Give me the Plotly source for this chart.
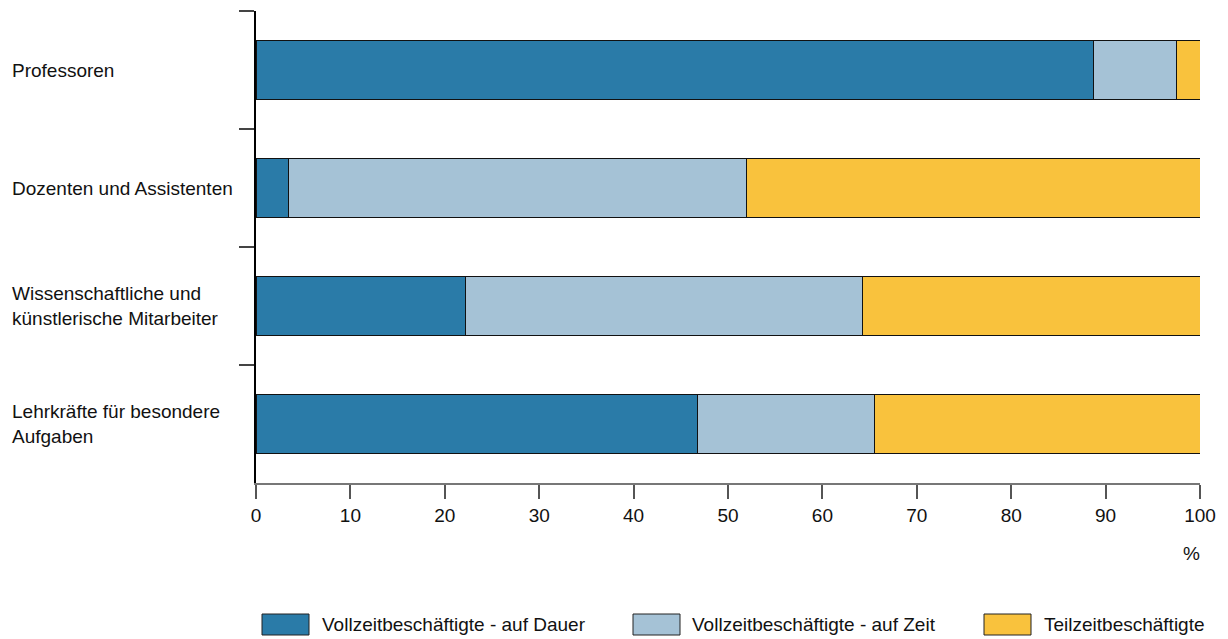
import plotly.graph_objects as go

categories = ["Professoren", "Dozenten und Assistenten",
              "Wissenschaftliche und<br>künstlerische Mitarbeiter",
              "Lehrkräfte für besondere<br>Aufgaben"]
series_names = ["Vollzeitbeschäftigte - auf Dauer", "Vollzeitbeschäftigte - auf Zeit", "Teilzeitbeschäftigte"]
vollzeit_dauer = [88.7, 3.4, 22.2, 46.8]
vollzeit_zeit = [8.8, 48.6, 42.0, 18.7]
teilzeit = [2.5, 48.0, 35.8, 34.5]
colors = ["#2a7ba8", "#a5c2d6", "#f9c23d"]
x_ticks = [0, 10, 20, 30, 40, 50, 60, 70, 80, 90, 100]

FONT = "Liberation Sans, Arial, sans-serif"
FS = 19
W, H = 1228, 639
L, R, T, B = 256, 28, 11, 156
pw, ph = W - L - R, H - T - B

def px2x(px):
    return (px - L) / pw

def py2y(py):
    return (H - B - py) / ph

fig = go.Figure()
for name, vals, col in zip(series_names, [vollzeit_dauer, vollzeit_zeit, teilzeit], colors):
    fig.add_trace(go.Bar(
        y=categories, x=vals, name=name, orientation="h",
        marker=dict(color=col, line=dict(color="#111111", width=1)),
        showlegend=False,
    ))

annotations = []
for c in categories:
    annotations.append(dict(
        x=px2x(11), xref="paper", y=c, yref="y", text=c, showarrow=False,
        xanchor="left", align="left", borderpad=0, font=dict(family=FONT, size=FS, color="#111111"),
    ))
annotations.append(dict(
    x=px2x(1191), xref="paper", y=py2y(553), yref="paper", text="%", showarrow=False,
    xanchor="center", yanchor="middle", font=dict(family=FONT, size=FS, color="#111111"),
))

shapes = []
legend_pos = [(262, 322), (633, 692), (984, 1044)]
for (sx, tx), name, col in zip(legend_pos, series_names, colors):
    shapes.append(dict(
        type="rect", xref="paper", yref="paper",
        x0=px2x(sx), x1=px2x(sx + 47), y0=py2y(635), y1=py2y(614),
        fillcolor=col, line=dict(color="#222222", width=1),
    ))
    annotations.append(dict(
        x=px2x(tx - 1), xref="paper", y=py2y(624.5), yref="paper", text=name, showarrow=False,
        xanchor="left", yanchor="middle", borderpad=0, font=dict(family=FONT, size=FS, color="#111111"),
    ))

fig.update_layout(
    barmode="stack", bargap=0.5,
    width=W, height=H,
    margin=dict(l=L, r=R, t=T, b=B, pad=0),
    plot_bgcolor="white", paper_bgcolor="white",
    font=dict(family=FONT, size=FS, color="#111111"),
    showlegend=False,
    annotations=annotations, shapes=shapes,
    xaxis=dict(
        range=[0, 100], tickvals=x_ticks, ticktext=[str(v) for v in x_ticks],
        showgrid=False, zeroline=False, showline=True, linecolor="#777777", linewidth=1.5,
        ticks="outside", ticklen=14, tickcolor="#555555", tickwidth=1.5,
        tickfont=dict(family=FONT, size=FS, color="#111111"),
    ),
    yaxis=dict(
        autorange="reversed", showgrid=False, zeroline=False,
        showline=True, linecolor="#000000", linewidth=1.5,
        ticks="outside", tickson="boundaries", ticklen=15, tickcolor="#444444", tickwidth=1.5,
        showticklabels=False,
    ),
)

fig.write_html("out.html", config={"displayModeBar": False},
               post_script="document.body.style.margin='0';document.body.style.overflow='hidden';")
